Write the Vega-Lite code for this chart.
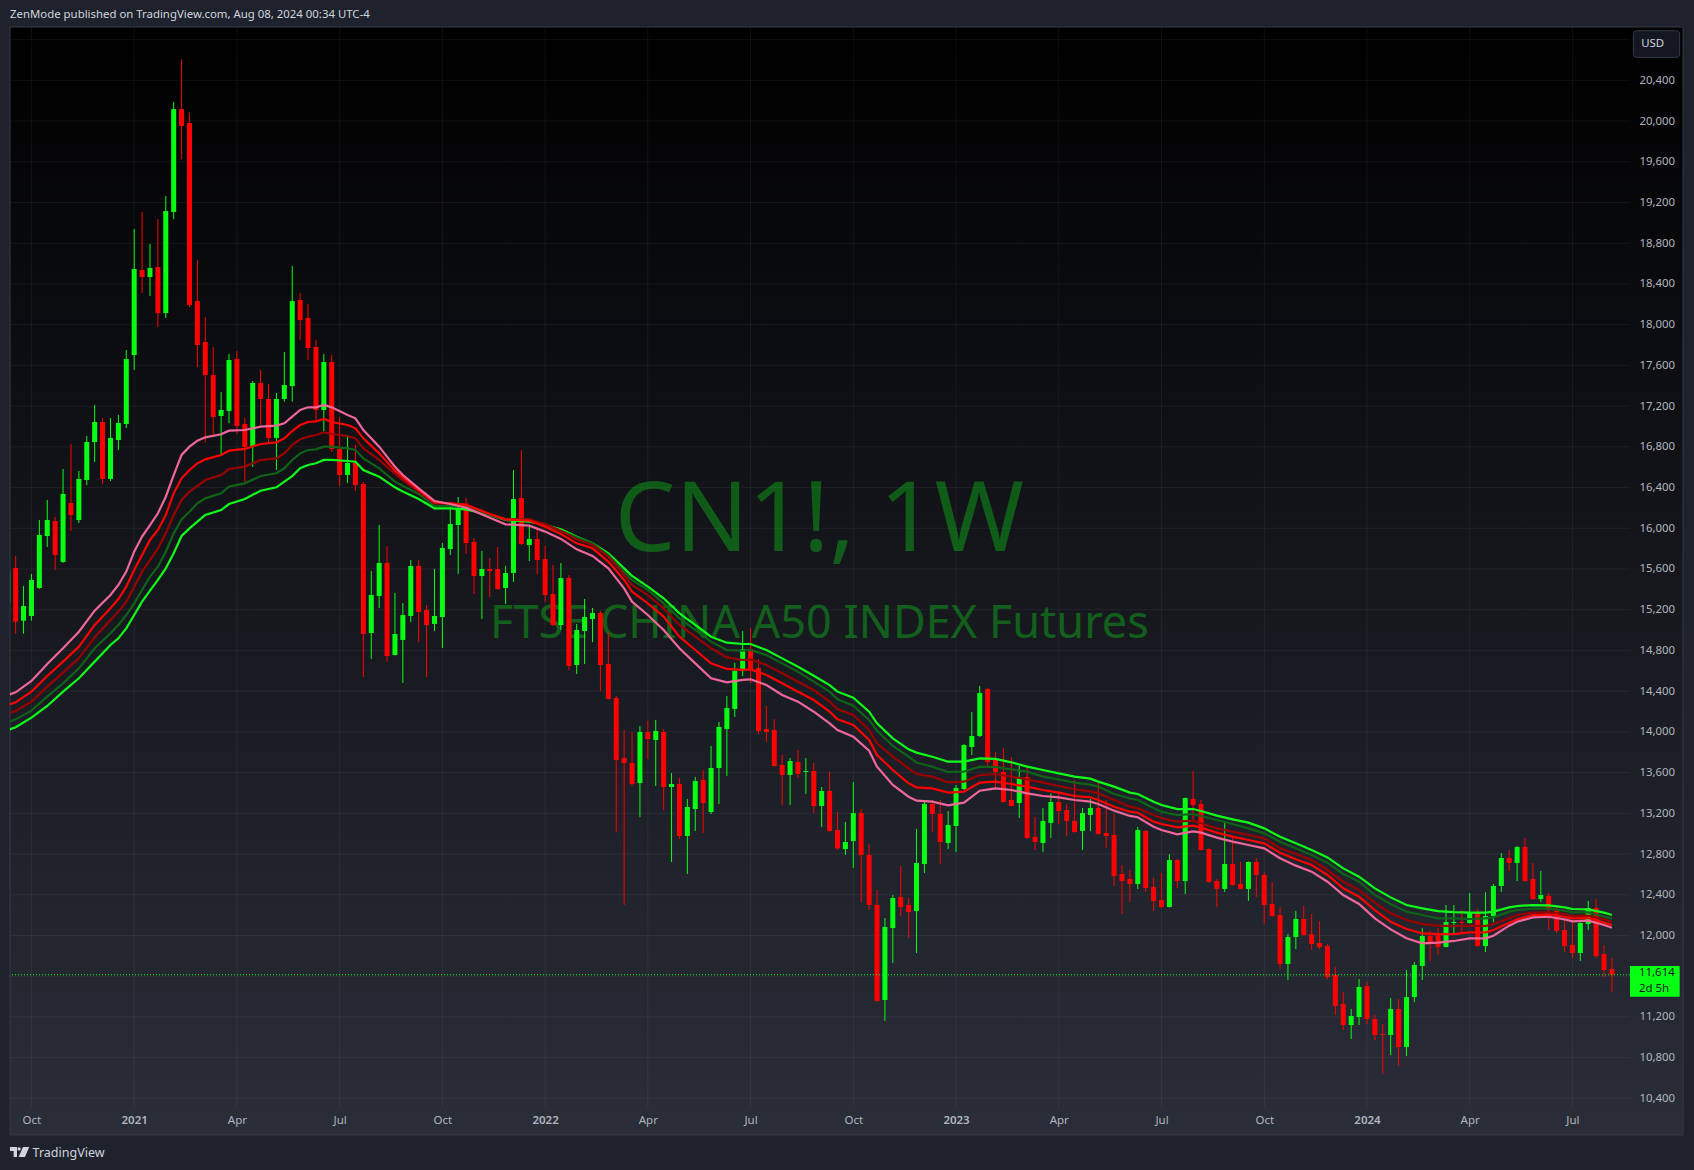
{
"$schema":"https://vega.github.io/schema/vega-lite/v6.json",
"width":1620,"height":1080,
"autosize":{"type":"none"},
"padding":{"left":10,"top":27,"right":64,"bottom":63},
"background":"#1e222d",
"config":{"view":{"stroke":null},"font":"Noto Sans"},
"datasets":{
"candles":[
{"d":"2020-09-14","o":15269,"h":15580,"l":15269,"c":15580},
{"d":"2020-09-21","o":15610,"h":15728,"l":14965,"c":15083},
{"d":"2020-09-28","o":15092,"h":15433,"l":14965,"c":15236},
{"d":"2020-10-05","o":15138,"h":15551,"l":15092,"c":15492},
{"d":"2020-10-12","o":15413,"h":16081,"l":15405,"c":15934},
{"d":"2020-10-19","o":15924,"h":16278,"l":15816,"c":16081},
{"d":"2020-10-26","o":16071,"h":16111,"l":15590,"c":15737},
{"d":"2020-11-02","o":15669,"h":16582,"l":15660,"c":16337},
{"d":"2020-11-09","o":16248,"h":16828,"l":15973,"c":16130},
{"d":"2020-11-16","o":16081,"h":16563,"l":16052,"c":16484},
{"d":"2020-11-23","o":16474,"h":16906,"l":16425,"c":16847},
{"d":"2020-11-30","o":16847,"h":17211,"l":16651,"c":17044},
{"d":"2020-12-07","o":17044,"h":17083,"l":16435,"c":16484},
{"d":"2020-12-14","o":16484,"h":17083,"l":16464,"c":16887},
{"d":"2020-12-21","o":16867,"h":17113,"l":16769,"c":17034},
{"d":"2020-12-28","o":17024,"h":17751,"l":16985,"c":17663},
{"d":"2021-01-04","o":17702,"h":18940,"l":17555,"c":18547},
{"d":"2021-01-11","o":18537,"h":19107,"l":18311,"c":18468},
{"d":"2021-01-18","o":18468,"h":18792,"l":18281,"c":18556},
{"d":"2021-01-25","o":18566,"h":19038,"l":17977,"c":18114},
{"d":"2021-02-01","o":18114,"h":19264,"l":18065,"c":19116},
{"d":"2021-02-08","o":19107,"h":20187,"l":19038,"c":20118},
{"d":"2021-02-15","o":20118,"h":20609,"l":19627,"c":19951},
{"d":"2021-02-22","o":19981,"h":20079,"l":18173,"c":18193},
{"d":"2021-03-01","o":18232,"h":18635,"l":17584,"c":17800},
{"d":"2021-03-08","o":17830,"h":18075,"l":16841,"c":17505},
{"d":"2021-03-15","o":17505,"h":17780,"l":16916,"c":17093},
{"d":"2021-03-22","o":17103,"h":17338,"l":16720,"c":17162},
{"d":"2021-03-29","o":17152,"h":17712,"l":17034,"c":17653},
{"d":"2021-04-05","o":17663,"h":17741,"l":16926,"c":17005},
{"d":"2021-04-12","o":17024,"h":17083,"l":16455,"c":16798},
{"d":"2021-04-19","o":16808,"h":17446,"l":16602,"c":17427},
{"d":"2021-04-26","o":17427,"h":17555,"l":17014,"c":17270},
{"d":"2021-05-03","o":17270,"h":17417,"l":16834,"c":16887},
{"d":"2021-05-10","o":16887,"h":17329,"l":16572,"c":17270},
{"d":"2021-05-17","o":17270,"h":17731,"l":17244,"c":17407},
{"d":"2021-05-24","o":17397,"h":18576,"l":17244,"c":18232},
{"d":"2021-05-31","o":18242,"h":18311,"l":17849,"c":18046},
{"d":"2021-06-07","o":18065,"h":18203,"l":17653,"c":17771},
{"d":"2021-06-14","o":17780,"h":17849,"l":17054,"c":17162},
{"d":"2021-06-21","o":17162,"h":17712,"l":16955,"c":17633},
{"d":"2021-06-28","o":17633,"h":17702,"l":16749,"c":16779},
{"d":"2021-07-05","o":16779,"h":17093,"l":16415,"c":16523},
{"d":"2021-07-12","o":16523,"h":16916,"l":16445,"c":16641},
{"d":"2021-07-19","o":16641,"h":16818,"l":16366,"c":16425},
{"d":"2021-07-26","o":16435,"h":16455,"l":14539,"c":14961},
{"d":"2021-08-02","o":14971,"h":15580,"l":14716,"c":15345},
{"d":"2021-08-09","o":15335,"h":16032,"l":15217,"c":15659},
{"d":"2021-08-16","o":15659,"h":15826,"l":14686,"c":14745},
{"d":"2021-08-23","o":14755,"h":15364,"l":14750,"c":14961},
{"d":"2021-08-30","o":14903,"h":15266,"l":14480,"c":15148},
{"d":"2021-09-06","o":15138,"h":15688,"l":15079,"c":15629},
{"d":"2021-09-13","o":15629,"h":15688,"l":14883,"c":15178},
{"d":"2021-09-20","o":15197,"h":15246,"l":14539,"c":15050},
{"d":"2021-09-27","o":15060,"h":15600,"l":14991,"c":15138},
{"d":"2021-10-04","o":15128,"h":15855,"l":14824,"c":15806},
{"d":"2021-10-11","o":15796,"h":16212,"l":15737,"c":16042},
{"d":"2021-10-18","o":16032,"h":16307,"l":15551,"c":16199},
{"d":"2021-10-25","o":16245,"h":16297,"l":15747,"c":15855},
{"d":"2021-11-01","o":15865,"h":15904,"l":15354,"c":15531},
{"d":"2021-11-08","o":15531,"h":15777,"l":15109,"c":15600},
{"d":"2021-11-15","o":15600,"h":15708,"l":15325,"c":15580},
{"d":"2021-11-22","o":15600,"h":15816,"l":15394,"c":15403},
{"d":"2021-11-29","o":15413,"h":15629,"l":15256,"c":15561},
{"d":"2021-12-06","o":15561,"h":16572,"l":15472,"c":16287},
{"d":"2021-12-13","o":16297,"h":16769,"l":15836,"c":15845},
{"d":"2021-12-20","o":15836,"h":16032,"l":15678,"c":15895},
{"d":"2021-12-27","o":15895,"h":16003,"l":15551,"c":15688},
{"d":"2022-01-03","o":15698,"h":15826,"l":15276,"c":15344},
{"d":"2022-01-10","o":15354,"h":15639,"l":15040,"c":15050},
{"d":"2022-01-17","o":15050,"h":15659,"l":15001,"c":15511},
{"d":"2022-01-24","o":15511,"h":15541,"l":14608,"c":14647},
{"d":"2022-01-31","o":14657,"h":15060,"l":14568,"c":15001},
{"d":"2022-02-07","o":14991,"h":15305,"l":14667,"c":15128},
{"d":"2022-02-14","o":15109,"h":15217,"l":14883,"c":15168},
{"d":"2022-02-21","o":15168,"h":15187,"l":14401,"c":14657},
{"d":"2022-02-28","o":14667,"h":14981,"l":14320,"c":14323},
{"d":"2022-03-07","o":14333,"h":14352,"l":13016,"c":13724},
{"d":"2022-03-14","o":13743,"h":14018,"l":12299,"c":13694},
{"d":"2022-03-21","o":13694,"h":13999,"l":13468,"c":13488},
{"d":"2022-03-28","o":13498,"h":14058,"l":13164,"c":13999},
{"d":"2022-04-04","o":13999,"h":14107,"l":13733,"c":13930},
{"d":"2022-04-11","o":13920,"h":14117,"l":13468,"c":14009},
{"d":"2022-04-18","o":13999,"h":14028,"l":13233,"c":13458},
{"d":"2022-04-25","o":13458,"h":13596,"l":12722,"c":13488},
{"d":"2022-05-02","o":13488,"h":13547,"l":12948,"c":12977},
{"d":"2022-05-09","o":12977,"h":13341,"l":12604,"c":13262},
{"d":"2022-05-16","o":13242,"h":13557,"l":13026,"c":13517},
{"d":"2022-05-23","o":13527,"h":13625,"l":13007,"c":13301},
{"d":"2022-05-30","o":13213,"h":13861,"l":13193,"c":13645},
{"d":"2022-06-06","o":13645,"h":14097,"l":13291,"c":14048},
{"d":"2022-06-13","o":14028,"h":14352,"l":13567,"c":14234},
{"d":"2022-06-20","o":14225,"h":14677,"l":14146,"c":14598},
{"d":"2022-06-27","o":14618,"h":14991,"l":14549,"c":14814},
{"d":"2022-07-04","o":14814,"h":15020,"l":14480,"c":14608},
{"d":"2022-07-11","o":14627,"h":14716,"l":13979,"c":14009},
{"d":"2022-07-18","o":14028,"h":14254,"l":13901,"c":13999},
{"d":"2022-07-25","o":14018,"h":14126,"l":13660,"c":13665},
{"d":"2022-08-01","o":13675,"h":13773,"l":13282,"c":13576},
{"d":"2022-08-08","o":13576,"h":13743,"l":13282,"c":13714},
{"d":"2022-08-15","o":13704,"h":13822,"l":13547,"c":13586},
{"d":"2022-08-22","o":13606,"h":13743,"l":13390,"c":13616},
{"d":"2022-08-29","o":13616,"h":13694,"l":13203,"c":13272},
{"d":"2022-09-05","o":13272,"h":13458,"l":13066,"c":13419},
{"d":"2022-09-12","o":13419,"h":13606,"l":13020,"c":13026},
{"d":"2022-09-19","o":13036,"h":13213,"l":12840,"c":12856},
{"d":"2022-09-26","o":12849,"h":13115,"l":12791,"c":12918},
{"d":"2022-10-03","o":12928,"h":13508,"l":12663,"c":13203},
{"d":"2022-10-10","o":13203,"h":13242,"l":12329,"c":12791},
{"d":"2022-10-17","o":12791,"h":12899,"l":12250,"c":12299},
{"d":"2022-10-24","o":12299,"h":12447,"l":11350,"c":11356},
{"d":"2022-10-31","o":11366,"h":12172,"l":11160,"c":12083},
{"d":"2022-11-07","o":12073,"h":12398,"l":11730,"c":12368},
{"d":"2022-11-14","o":12378,"h":12682,"l":12191,"c":12280},
{"d":"2022-11-21","o":12299,"h":12368,"l":11975,"c":12231},
{"d":"2022-11-28","o":12240,"h":13046,"l":11828,"c":12712},
{"d":"2022-12-05","o":12702,"h":13311,"l":12614,"c":13292},
{"d":"2022-12-12","o":13292,"h":13331,"l":13016,"c":13193},
{"d":"2022-12-19","o":13193,"h":13331,"l":12702,"c":12918},
{"d":"2022-12-26","o":12908,"h":13223,"l":12849,"c":13085},
{"d":"2023-01-02","o":13075,"h":13478,"l":12820,"c":13449},
{"d":"2023-01-09","o":13439,"h":13880,"l":13429,"c":13871},
{"d":"2023-01-16","o":13851,"h":14195,"l":13773,"c":13959},
{"d":"2023-01-23","o":13959,"h":14451,"l":13950,"c":14382},
{"d":"2023-01-30","o":14421,"h":14431,"l":13665,"c":13704},
{"d":"2023-02-06","o":13724,"h":13802,"l":13445,"c":13606},
{"d":"2023-02-13","o":13606,"h":13842,"l":13305,"c":13311},
{"d":"2023-02-20","o":13331,"h":13753,"l":13268,"c":13272},
{"d":"2023-02-27","o":13301,"h":13665,"l":13154,"c":13547},
{"d":"2023-03-06","o":13557,"h":13645,"l":12948,"c":12958},
{"d":"2023-03-13","o":12967,"h":13164,"l":12840,"c":12918},
{"d":"2023-03-20","o":12908,"h":13252,"l":12820,"c":13125},
{"d":"2023-03-27","o":13105,"h":13396,"l":12958,"c":13311},
{"d":"2023-04-03","o":13311,"h":13396,"l":13095,"c":13223},
{"d":"2023-04-10","o":13233,"h":13292,"l":12977,"c":13125},
{"d":"2023-04-17","o":13125,"h":13527,"l":13010,"c":13016},
{"d":"2023-04-24","o":13026,"h":13252,"l":12840,"c":13203},
{"d":"2023-05-01","o":13183,"h":13341,"l":13026,"c":13252},
{"d":"2023-05-08","o":13252,"h":13527,"l":12990,"c":12997},
{"d":"2023-05-15","o":13007,"h":13331,"l":12859,"c":12977},
{"d":"2023-05-22","o":12987,"h":13193,"l":12486,"c":12584},
{"d":"2023-05-29","o":12604,"h":12692,"l":12211,"c":12535},
{"d":"2023-06-05","o":12555,"h":12643,"l":12329,"c":12506},
{"d":"2023-06-12","o":12506,"h":13066,"l":12457,"c":13036},
{"d":"2023-06-19","o":13026,"h":13036,"l":12427,"c":12466},
{"d":"2023-06-26","o":12476,"h":12565,"l":12240,"c":12339},
{"d":"2023-07-03","o":12349,"h":12614,"l":12270,"c":12280},
{"d":"2023-07-10","o":12280,"h":12800,"l":12275,"c":12741},
{"d":"2023-07-17","o":12741,"h":12751,"l":12466,"c":12535},
{"d":"2023-07-24","o":12535,"h":13355,"l":12407,"c":13350},
{"d":"2023-07-31","o":13341,"h":13616,"l":13134,"c":13282},
{"d":"2023-08-07","o":13292,"h":13331,"l":12835,"c":12840},
{"d":"2023-08-14","o":12849,"h":12859,"l":12520,"c":12525},
{"d":"2023-08-21","o":12535,"h":12555,"l":12280,"c":12457},
{"d":"2023-08-28","o":12457,"h":13105,"l":12427,"c":12702},
{"d":"2023-09-04","o":12702,"h":12967,"l":12490,"c":12496},
{"d":"2023-09-11","o":12506,"h":12722,"l":12452,"c":12457},
{"d":"2023-09-18","o":12457,"h":12727,"l":12339,"c":12722},
{"d":"2023-09-25","o":12722,"h":12761,"l":12378,"c":12594},
{"d":"2023-10-02","o":12594,"h":12623,"l":12113,"c":12299},
{"d":"2023-10-09","o":12309,"h":12525,"l":12181,"c":12191},
{"d":"2023-10-16","o":12201,"h":12279,"l":11670,"c":11720},
{"d":"2023-10-23","o":11720,"h":12014,"l":11562,"c":11985},
{"d":"2023-10-30","o":11985,"h":12240,"l":11867,"c":12162},
{"d":"2023-11-06","o":12162,"h":12289,"l":11995,"c":12004},
{"d":"2023-11-13","o":12014,"h":12211,"l":11857,"c":11916},
{"d":"2023-11-20","o":11926,"h":12142,"l":11867,"c":11887},
{"d":"2023-11-27","o":11896,"h":11916,"l":11572,"c":11592},
{"d":"2023-12-04","o":11612,"h":11690,"l":11219,"c":11307},
{"d":"2023-12-11","o":11327,"h":11445,"l":11071,"c":11120},
{"d":"2023-12-18","o":11120,"h":11278,"l":10983,"c":11209},
{"d":"2023-12-25","o":11199,"h":11572,"l":11120,"c":11494},
{"d":"2024-01-01","o":11503,"h":11543,"l":11130,"c":11179},
{"d":"2024-01-08","o":11179,"h":11219,"l":10973,"c":11022},
{"d":"2024-01-15","o":11032,"h":11130,"l":10639,"c":11022},
{"d":"2024-01-22","o":11022,"h":11386,"l":10826,"c":11278},
{"d":"2024-01-29","o":11278,"h":11376,"l":10718,"c":10904},
{"d":"2024-02-05","o":10904,"h":11661,"l":10816,"c":11395},
{"d":"2024-02-12","o":11395,"h":11739,"l":11346,"c":11710},
{"d":"2024-02-19","o":11700,"h":12073,"l":11562,"c":11995},
{"d":"2024-02-26","o":11995,"h":12044,"l":11749,"c":11926},
{"d":"2024-03-04","o":12004,"h":12073,"l":11808,"c":11887},
{"d":"2024-03-11","o":11887,"h":12299,"l":11882,"c":12132},
{"d":"2024-03-18","o":12122,"h":12299,"l":12024,"c":12132},
{"d":"2024-03-25","o":12132,"h":12250,"l":12024,"c":12122},
{"d":"2024-04-01","o":12122,"h":12417,"l":12117,"c":12230},
{"d":"2024-04-08","o":12230,"h":12260,"l":11890,"c":11896},
{"d":"2024-04-15","o":11896,"h":12427,"l":11837,"c":12191},
{"d":"2024-04-22","o":12191,"h":12505,"l":12132,"c":12486},
{"d":"2024-04-29","o":12486,"h":12810,"l":12427,"c":12761},
{"d":"2024-05-06","o":12761,"h":12839,"l":12633,"c":12712},
{"d":"2024-05-13","o":12712,"h":12879,"l":12535,"c":12869},
{"d":"2024-05-20","o":12869,"h":12957,"l":12530,"c":12535},
{"d":"2024-05-27","o":12555,"h":12712,"l":12353,"c":12358},
{"d":"2024-06-03","o":12358,"h":12633,"l":12329,"c":12397},
{"d":"2024-06-10","o":12388,"h":12417,"l":12054,"c":12250},
{"d":"2024-06-17","o":12250,"h":12283,"l":12024,"c":12044},
{"d":"2024-06-24","o":12054,"h":12152,"l":11837,"c":11896},
{"d":"2024-07-01","o":11906,"h":12152,"l":11779,"c":11828},
{"d":"2024-07-08","o":11828,"h":12127,"l":11749,"c":12122},
{"d":"2024-07-15","o":12113,"h":12338,"l":12054,"c":12270},
{"d":"2024-07-22","o":12270,"h":12358,"l":11779,"c":11798},
{"d":"2024-07-29","o":11818,"h":11906,"l":11592,"c":11661},
{"d":"2024-08-05","o":11670,"h":11779,"l":11445,"c":11614}
],
"ribbon":[
{"d":"2020-09-14","pink":14362,"red":14264,"darkred":14179,"darkgreen":14094,"green":14018},
{"d":"2020-09-21","pink":14388,"red":14290,"darkred":14205,"darkgreen":14123,"green":14045},
{"d":"2020-10-05","pink":14500,"red":14395,"darkred":14297,"darkgreen":14208,"green":14140},
{"d":"2020-10-19","pink":14667,"red":14549,"darkred":14444,"darkgreen":14346,"green":14254},
{"d":"2020-11-02","pink":14821,"red":14690,"darkred":14582,"darkgreen":14477,"green":14395},
{"d":"2020-11-16","pink":14984,"red":14837,"darkred":14722,"darkgreen":14624,"green":14526},
{"d":"2020-11-30","pink":15191,"red":15050,"darkred":14929,"darkgreen":14821,"green":14690},
{"d":"2020-12-14","pink":15345,"red":15214,"darkred":15099,"darkgreen":14968,"green":14853},
{"d":"2020-12-21","pink":15443,"red":15305,"darkred":15181,"darkgreen":15050,"green":14919},
{"d":"2020-12-28","pink":15574,"red":15426,"darkred":15279,"darkgreen":15148,"green":15017},
{"d":"2021-01-04","pink":15770,"red":15590,"darkred":15426,"darkgreen":15263,"green":15148},
{"d":"2021-01-11","pink":15918,"red":15737,"darkred":15574,"darkgreen":15394,"green":15279},
{"d":"2021-01-18","pink":16032,"red":15885,"darkred":15688,"darkgreen":15525,"green":15387},
{"d":"2021-01-25","pink":16147,"red":15983,"darkred":15803,"darkgreen":15623,"green":15492},
{"d":"2021-02-01","pink":16310,"red":16130,"darkred":15950,"darkgreen":15770,"green":15606},
{"d":"2021-02-08","pink":16523,"red":16343,"darkred":16130,"darkgreen":15950,"green":15754},
{"d":"2021-02-15","pink":16720,"red":16491,"darkred":16278,"darkgreen":16088,"green":15924},
{"d":"2021-02-22","pink":16802,"red":16572,"darkred":16360,"darkgreen":16163,"green":15999},
{"d":"2021-03-01","pink":16861,"red":16638,"darkred":16415,"darkgreen":16245,"green":16065},
{"d":"2021-03-08","pink":16893,"red":16677,"darkred":16474,"darkgreen":16294,"green":16130},
{"d":"2021-03-22","pink":16923,"red":16720,"darkred":16523,"darkgreen":16343,"green":16179},
{"d":"2021-03-29","pink":16959,"red":16762,"darkred":16582,"darkgreen":16409,"green":16238},
{"d":"2021-04-12","pink":16965,"red":16779,"darkred":16605,"darkgreen":16441,"green":16288},
{"d":"2021-04-26","pink":16998,"red":16828,"darkred":16671,"darkgreen":16513,"green":16369},
{"d":"2021-05-10","pink":17008,"red":16844,"darkred":16687,"darkgreen":16540,"green":16402},
{"d":"2021-05-17","pink":17031,"red":16883,"darkred":16736,"darkgreen":16589,"green":16458},
{"d":"2021-05-24","pink":17096,"red":16955,"darkred":16818,"darkgreen":16671,"green":16513},
{"d":"2021-05-31","pink":17162,"red":17014,"darkred":16874,"darkgreen":16736,"green":16589},
{"d":"2021-06-07","pink":17188,"red":17044,"darkred":16900,"darkgreen":16769,"green":16622},
{"d":"2021-06-14","pink":17188,"red":17050,"darkred":16916,"darkgreen":16775,"green":16638},
{"d":"2021-06-21","pink":17211,"red":17073,"darkred":16942,"darkgreen":16802,"green":16671},
{"d":"2021-06-28","pink":17188,"red":17044,"darkred":16926,"darkgreen":16802,"green":16671},
{"d":"2021-07-12","pink":17113,"red":17014,"darkred":16906,"darkgreen":16785,"green":16661},
{"d":"2021-07-19","pink":17080,"red":16982,"darkred":16883,"darkgreen":16769,"green":16654},
{"d":"2021-07-26","pink":16965,"red":16883,"darkred":16785,"darkgreen":16687,"green":16572},
{"d":"2021-08-09","pink":16802,"red":16736,"darkred":16671,"darkgreen":16589,"green":16507},
{"d":"2021-08-23","pink":16605,"red":16566,"darkred":16533,"darkgreen":16458,"green":16402},
{"d":"2021-08-30","pink":16523,"red":16500,"darkred":16474,"darkgreen":16415,"green":16360},
{"d":"2021-09-13","pink":16392,"red":16376,"darkred":16360,"darkgreen":16337,"green":16288},
{"d":"2021-09-27","pink":16268,"red":16255,"darkred":16245,"darkgreen":16219,"green":16196},
{"d":"2021-10-11","pink":16238,"red":16245,"darkred":16245,"darkgreen":16222,"green":16196},
{"d":"2021-10-25","pink":16202,"red":16228,"darkred":16235,"darkgreen":16212,"green":16186},
{"d":"2021-11-15","pink":16104,"red":16140,"darkred":16140,"darkgreen":16130,"green":16130},
{"d":"2021-11-29","pink":16039,"red":16088,"darkred":16088,"darkgreen":16088,"green":16081},
{"d":"2021-12-20","pink":16026,"red":16075,"darkred":16088,"darkgreen":16088,"green":16065},
{"d":"2022-01-03","pink":15967,"red":16016,"darkred":16042,"darkgreen":16032,"green":16032},
{"d":"2022-01-17","pink":15895,"red":15944,"darkred":15976,"darkgreen":15976,"green":15990},
{"d":"2022-01-31","pink":15793,"red":15852,"darkred":15891,"darkgreen":15911,"green":15917},
{"d":"2022-02-14","pink":15728,"red":15803,"darkred":15836,"darkgreen":15852,"green":15852},
{"d":"2022-02-28","pink":15606,"red":15672,"darkred":15721,"darkgreen":15737,"green":15754},
{"d":"2022-03-14","pink":15410,"red":15492,"darkred":15541,"darkgreen":15574,"green":15606},
{"d":"2022-03-21","pink":15279,"red":15377,"darkred":15443,"darkgreen":15492,"green":15531},
{"d":"2022-04-04","pink":15148,"red":15263,"darkred":15344,"darkgreen":15394,"green":15426},
{"d":"2022-04-18","pink":15001,"red":15132,"darkred":15213,"darkgreen":15263,"green":15312},
{"d":"2022-05-02","pink":14821,"red":14935,"darkred":15050,"darkgreen":15115,"green":15164},
{"d":"2022-05-16","pink":14673,"red":14804,"darkred":14935,"darkgreen":15001,"green":15050},
{"d":"2022-05-30","pink":14526,"red":14673,"darkred":14821,"darkgreen":14886,"green":14935},
{"d":"2022-06-13","pink":14487,"red":14618,"darkred":14732,"darkgreen":14804,"green":14876},
{"d":"2022-06-27","pink":14510,"red":14608,"darkred":14706,"darkgreen":14798,"green":14863},
{"d":"2022-07-04","pink":14516,"red":14614,"darkred":14712,"darkgreen":14804,"green":14863},
{"d":"2022-07-18","pink":14460,"red":14559,"darkred":14657,"darkgreen":14755,"green":14804},
{"d":"2022-08-01","pink":14362,"red":14477,"darkred":14575,"darkgreen":14673,"green":14722},
{"d":"2022-08-15","pink":14297,"red":14395,"darkred":14493,"darkgreen":14591,"green":14640},
{"d":"2022-08-29","pink":14198,"red":14313,"darkred":14411,"darkgreen":14493,"green":14552},
{"d":"2022-09-12","pink":14084,"red":14198,"darkred":14297,"darkgreen":14395,"green":14460},
{"d":"2022-09-19","pink":14018,"red":14123,"darkred":14221,"darkgreen":14320,"green":14395},
{"d":"2022-10-03","pink":13953,"red":14068,"darkred":14166,"darkgreen":14257,"green":14336},
{"d":"2022-10-17","pink":13815,"red":13920,"darkred":14018,"darkgreen":14117,"green":14198},
{"d":"2022-10-24","pink":13658,"red":13773,"darkred":13887,"darkgreen":14012,"green":14084},
{"d":"2022-11-07","pink":13478,"red":13625,"darkred":13756,"darkgreen":13861,"green":13937},
{"d":"2022-11-21","pink":13363,"red":13495,"darkred":13642,"darkgreen":13756,"green":13828},
{"d":"2022-11-28","pink":13324,"red":13455,"darkred":13586,"darkgreen":13698,"green":13796},
{"d":"2022-12-12","pink":13314,"red":13445,"darkred":13560,"darkgreen":13658,"green":13756},
{"d":"2022-12-26","pink":13278,"red":13403,"darkred":13504,"darkgreen":13606,"green":13707},
{"d":"2023-01-09","pink":13305,"red":13413,"darkred":13511,"darkgreen":13609,"green":13707},
{"d":"2023-01-23","pink":13422,"red":13501,"darkred":13576,"darkgreen":13658,"green":13740},
{"d":"2023-02-06","pink":13445,"red":13511,"darkred":13586,"darkgreen":13655,"green":13734},
{"d":"2023-02-20","pink":13429,"red":13488,"darkred":13560,"darkgreen":13632,"green":13701},
{"d":"2023-03-06","pink":13396,"red":13462,"darkred":13534,"darkgreen":13609,"green":13658},
{"d":"2023-03-20","pink":13370,"red":13429,"darkred":13501,"darkgreen":13560,"green":13625},
{"d":"2023-04-03","pink":13357,"red":13403,"darkred":13468,"darkgreen":13534,"green":13593},
{"d":"2023-04-17","pink":13331,"red":13370,"darkred":13436,"darkgreen":13501,"green":13560},
{"d":"2023-05-01","pink":13314,"red":13357,"darkred":13416,"darkgreen":13481,"green":13540},
{"d":"2023-05-08","pink":13292,"red":13331,"darkred":13396,"darkgreen":13462,"green":13511},
{"d":"2023-05-22","pink":13226,"red":13265,"darkred":13331,"darkgreen":13390,"green":13462},
{"d":"2023-06-05","pink":13174,"red":13216,"darkred":13265,"darkgreen":13347,"green":13403},
{"d":"2023-06-12","pink":13161,"red":13206,"darkred":13249,"darkgreen":13331,"green":13390},
{"d":"2023-06-26","pink":13069,"red":13118,"darkred":13183,"darkgreen":13249,"green":13314},
{"d":"2023-07-03","pink":13036,"red":13095,"darkred":13151,"darkgreen":13216,"green":13282},
{"d":"2023-07-17","pink":12994,"red":13062,"darkred":13118,"darkgreen":13183,"green":13242},
{"d":"2023-07-31","pink":13023,"red":13079,"darkred":13128,"darkgreen":13193,"green":13242},
{"d":"2023-08-07","pink":13010,"red":13059,"darkred":13102,"darkgreen":13174,"green":13223},
{"d":"2023-08-21","pink":12961,"red":13010,"darkred":13052,"darkgreen":13134,"green":13177},
{"d":"2023-09-04","pink":12922,"red":12971,"darkred":13020,"darkgreen":13095,"green":13141},
{"d":"2023-09-18","pink":12889,"red":12938,"darkred":12987,"darkgreen":13052,"green":13108},
{"d":"2023-10-02","pink":12856,"red":12905,"darkred":12954,"darkgreen":13003,"green":13052},
{"d":"2023-10-16","pink":12758,"red":12813,"darkred":12856,"darkgreen":12921,"green":12970},
{"d":"2023-10-30","pink":12686,"red":12748,"darkred":12800,"darkgreen":12856,"green":12905},
{"d":"2023-11-13","pink":12627,"red":12692,"darkred":12741,"darkgreen":12790,"green":12839},
{"d":"2023-11-27","pink":12528,"red":12594,"darkred":12643,"darkgreen":12715,"green":12767},
{"d":"2023-12-11","pink":12397,"red":12463,"darkred":12528,"darkgreen":12604,"green":12659},
{"d":"2023-12-25","pink":12309,"red":12381,"darkred":12446,"darkgreen":12528,"green":12577},
{"d":"2024-01-08","pink":12168,"red":12250,"darkred":12322,"darkgreen":12397,"green":12463},
{"d":"2024-01-22","pink":12060,"red":12135,"darkred":12217,"darkgreen":12309,"green":12374},
{"d":"2024-02-05","pink":11972,"red":12063,"darkred":12152,"darkgreen":12234,"green":12299},
{"d":"2024-02-19","pink":11923,"red":12021,"darkred":12112,"darkgreen":12201,"green":12266},
{"d":"2024-03-04","pink":11929,"red":12014,"darkred":12096,"darkgreen":12168,"green":12240},
{"d":"2024-03-18","pink":11946,"red":12014,"darkred":12093,"darkgreen":12168,"green":12230},
{"d":"2024-04-01","pink":11972,"red":12031,"darkred":12096,"darkgreen":12162,"green":12224},
{"d":"2024-04-15","pink":11972,"red":12031,"darkred":12093,"darkgreen":12168,"green":12224},
{"d":"2024-04-22","pink":11998,"red":12054,"darkred":12112,"darkgreen":12178,"green":12234},
{"d":"2024-05-06","pink":12096,"red":12126,"darkred":12168,"darkgreen":12234,"green":12276},
{"d":"2024-05-13","pink":12135,"red":12158,"darkred":12201,"darkgreen":12250,"green":12289},
{"d":"2024-05-27","pink":12178,"red":12201,"darkred":12224,"darkgreen":12263,"green":12299},
{"d":"2024-06-10","pink":12184,"red":12204,"darkred":12227,"darkgreen":12263,"green":12296},
{"d":"2024-06-24","pink":12158,"red":12184,"darkred":12211,"darkgreen":12243,"green":12276},
{"d":"2024-07-01","pink":12139,"red":12168,"darkred":12191,"darkgreen":12227,"green":12260},
{"d":"2024-07-15","pink":12145,"red":12171,"darkred":12194,"darkgreen":12227,"green":12257},
{"d":"2024-07-29","pink":12103,"red":12126,"darkred":12158,"darkgreen":12185,"green":12224},
{"d":"2024-08-05","pink":12076,"red":12103,"darkred":12135,"darkgreen":12165,"green":12201}
],
"levels":[{"p":10400},{"p":10800},{"p":11200},{"p":11600},{"p":12000},{"p":12400},{"p":12800},{"p":13200},{"p":13600},{"p":14000},{"p":14400},{"p":14800},{"p":15200},{"p":15600},{"p":16000},{"p":16400},{"p":16800},{"p":17200},{"p":17600},{"p":18000},{"p":18400},{"p":18800},{"p":19200},{"p":19600},{"p":20000},{"p":20400},{"p":20800}],
"months":[{"m":"2020-10-05"},{"m":"2021-01-04"},{"m":"2021-04-05"},{"m":"2021-07-05"},{"m":"2021-10-04"},{"m":"2022-01-03"},{"m":"2022-04-04"},{"m":"2022-07-04"},{"m":"2022-10-03"},{"m":"2023-01-02"},{"m":"2023-04-03"},{"m":"2023-07-03"},{"m":"2023-10-02"},{"m":"2024-01-01"},{"m":"2024-04-01"},{"m":"2024-07-01"}]
},
"data":{"name":"candles"},
"encoding":{
"x":{"type":"temporal","title":null,
"scale":{"type":"utc","domain":["2020-09-16","2024-08-21"],"padding":0},
"axis":{"orient":"bottom","zindex":1,"grid":false,"ticks":false,"domain":false,"labelPadding":7,"labelFontSize":11.5,"labelColor":"#b2b5be",
"values":["2020-10-05","2021-01-04","2021-04-05","2021-07-05","2021-10-04","2022-01-03","2022-04-04","2022-07-04","2022-10-03","2023-01-02","2023-04-03","2023-07-03","2023-10-02","2024-01-01","2024-04-01","2024-07-01"],
"labelExpr":"utcmonth(datum.value)==0?utcFormat(datum.value,'%Y'):utcFormat(datum.value,'%b')",
"labelFontWeight":{"condition":{"test":"utcmonth(datum.value)==0","value":600},"value":"normal"},
"labelOverlap":false,"labelFlush":false}},
"y":{"type":"quantitative","title":null,
"scale":{"domain":[10315,20924],"nice":false,"zero":false},
"axis":{"orient":"right","zindex":1,"grid":false,"ticks":false,"domain":false,"labelPadding":9,"labelFontSize":11.4,"labelColor":"#b2b5be","labelAlign":"left",
"values":[10400,10800,11200,11600,12000,12400,12800,13200,13600,14000,14400,14800,15200,15600,16000,16400,16800,17200,17600,18000,18400,18800,19200,19600,20000,20400,20800],
"labelExpr":"datum.value==11600||datum.value==20800?'':format(datum.value,',')",
"labelOverlap":false}}
},
"layer":[
{"data":{"values":[{}]},
"mark":{"type":"rect","stroke":"#363a45","strokeWidth":1,"color":{"gradient":"linear","x1":0,"y1":0,"x2":0,"y2":1,"stops":[{"offset":0,"color":"#000000"},{"offset":1,"color":"#2a2e39"}]}},
"encoding":{"x":{"datum":{"year":2020,"month":9,"date":16,"utc":true},"type":"temporal"},"x2":{"datum":{"year":2024,"month":10,"date":7,"utc":true}},"y":{"datum":20924},"y2":{"datum":10040}}},
{"data":{"name":"levels"},"mark":{"type":"rule","color":"#f0f3fa","opacity":0.06,"strokeWidth":1},"encoding":{"x":null,"y":{"field":"p","type":"quantitative"}}},
{"data":{"name":"months"},"mark":{"type":"rule","color":"#f0f3fa","opacity":0.06,"strokeWidth":1},"encoding":{"y":null,"x":{"field":"m","type":"temporal"}}},
{"data":{"values":[{"t":"CN1!, 1W"}]},"mark":{"type":"text","fontSize":96,"align":"center","baseline":"middle","color":"#0bff17","opacity":0.3},
"encoding":{"x":{"datum":{"year":2022,"month":9,"date":3,"utc":true},"type":"temporal"},"y":{"datum":16065},"text":{"field":"t"}}},
{"data":{"values":[{"t":"FTSE CHINA A50 INDEX Futures"}]},"mark":{"type":"text","fontSize":45,"align":"center","baseline":"middle","color":"#0bff17","opacity":0.3},
"encoding":{"x":{"datum":{"year":2022,"month":9,"date":3,"utc":true},"type":"temporal"},"y":{"datum":15055},"text":{"field":"t"}}},
{"mark":{"type":"rule","strokeWidth":1,"clip":true},
"encoding":{"x":{"field":"d","type":"temporal"},"y":{"field":"l","type":"quantitative"},"y2":{"field":"h"},
"color":{"condition":{"test":"datum.c>=datum.o","value":"#08ff14"},"value":"#ff0000"}}},
{"mark":{"type":"bar","size":5,"clip":true},
"encoding":{"x":{"field":"d","type":"temporal"},"y":{"field":"o","type":"quantitative"},"y2":{"field":"c"},
"color":{"condition":{"test":"datum.c>=datum.o","value":"#08ff14"},"value":"#ff0000"}}},
{"data":{"name":"ribbon"},"transform":[{"fold":["green","darkgreen","darkred","red","pink"],"as":["ema","val"]}],
"mark":{"type":"line","strokeWidth":2.2,"clip":true},
"encoding":{"x":{"field":"d","type":"temporal"},"y":{"field":"val","type":"quantitative"},
"color":{"field":"ema","type":"nominal","legend":null,"sort":null,"scale":{"domain":["green","darkgreen","darkred","red","pink"],"range":["#0fff1a","#0e6318","#990000","#ff0000","#f0679a"]}}}},
{"data":{"values":[{"p":11614}]},"mark":{"type":"rule","color":"#08ff14","strokeWidth":1,"strokeDash":[1,2]},"encoding":{"x":null,"y":{"field":"p","type":"quantitative"}}},
{"data":{"values":[{}]},"mark":{"type":"rect","color":"#08ff14"},
"encoding":{"x":{"datum":{"year":2024,"month":8,"date":21,"utc":true},"type":"temporal"},"x2":{"datum":{"year":2024,"month":10,"date":4,"utc":true}},"y":{"datum":11700},"y2":{"datum":11398}}},
{"data":{"values":[{"t":"11,614","p":11628},{"t":"2d 5h","p":11476}]},"mark":{"type":"text","align":"left","baseline":"middle","fontSize":11.4,"color":"#131722"},
"encoding":{"x":{"datum":{"year":2024,"month":8,"date":29,"utc":true},"type":"temporal"},"y":{"field":"p","type":"quantitative"},"text":{"field":"t"}}},
{"data":{"values":[{}]},"mark":{"type":"rect","fill":"#131722","stroke":"#363a45","strokeWidth":1,"cornerRadius":3},
"encoding":{"x":{"datum":{"year":2024,"month":8,"date":24,"utc":true},"type":"temporal"},"x2":{"datum":{"year":2024,"month":10,"date":4,"utc":true}},"y":{"datum":20887},"y2":{"datum":20626}}},
{"data":{"values":[{"t":"USD"}]},"mark":{"type":"text","align":"left","baseline":"middle","fontSize":11.4,"color":"#d1d4dc"},
"encoding":{"x":{"datum":{"year":2024,"month":8,"date":31,"utc":true},"type":"temporal"},"y":{"datum":20755},"text":{"field":"t"}}},
{"data":{"values":[{"t":"ZenMode published on TradingView.com, Aug 08, 2024 00:34 UTC-4"}]},"mark":{"type":"text","align":"left","baseline":"middle","fontSize":11.4,"color":"#d1d4dc"},
"encoding":{"x":{"datum":{"year":2020,"month":9,"date":16,"utc":true},"type":"temporal"},"y":{"datum":21041},"text":{"field":"t"}}},
{"data":{"values":[{"t":"TradingView"}]},"mark":{"type":"text","align":"left","baseline":"middle","fontSize":12.5,"color":"#d1d4dc"},
"encoding":{"x":{"datum":{"year":2020,"month":10,"date":6,"utc":true},"type":"temporal"},"y":{"datum":9866},"text":{"field":"t"}}},
{"data":{"values":[{}]},"mark":{"type":"point","filled":true,"opacity":1,"size":372,"color":"#d1d4dc","shape":"M-1 -.53H-.27V.53H-.62V-.1H-1ZM-.22 -.32a.17 .17 0 1 0 .34 0a.17 .17 0 1 0 -.34 0ZM.35 -.53H1L.55 .53H-.1Z"},
"encoding":{"x":{"datum":{"year":2020,"month":9,"date":24,"hours":12,"utc":true},"type":"temporal"},"y":{"datum":9873}}}
]
}
